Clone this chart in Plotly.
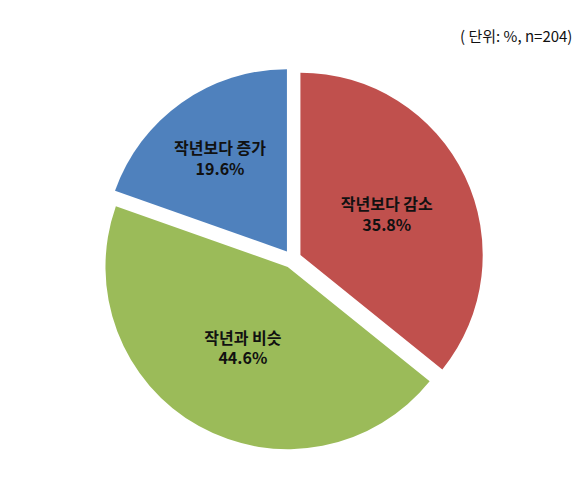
import plotly.graph_objects as go

categories = ["작년보다 감소", "작년과 비슷", "작년보다 증가"]
values = [35.8, 44.6, 19.6]
colors = ["#C0504D", "#9BBB59", "#4F81BD"]
note = "( 단위: %, n=204)"

labels_text = [f"{c}<br>{v:.1f}%" for c, v in zip(categories, values)]

fig = go.Figure(
    go.Pie(
        labels=categories,
        values=values,
        text=labels_text,
        textinfo="text",
        textposition="inside",
        insidetextorientation="horizontal",
        sort=False,
        direction="clockwise",
        rotation=0,
        pull=[0.05, 0.05, 0.05],
        marker=dict(colors=colors, line=dict(color="white", width=0)),
        textfont=dict(family="Noto Sans CJK KR", size=16, color="#111111", weight="bold"),
        hoverinfo="label+percent",
        domain=dict(x=[0.16, 0.82], y=[0.05, 0.93]),
        showlegend=False,
    )
)

fig.add_annotation(
    text=note, xref="paper", yref="paper", x=0.875, y=0.945,
    xanchor="center", yanchor="middle", showarrow=False,
    font=dict(family="Noto Sans CJK KR", size=15, color="#111111"),
)

fig.update_layout(
    width=580, height=492,
    margin=dict(l=0, r=0, t=0, b=0),
    paper_bgcolor="white", plot_bgcolor="white",
    uniformtext=dict(minsize=10, mode="show"),
)

fig.write_html("out.html")
